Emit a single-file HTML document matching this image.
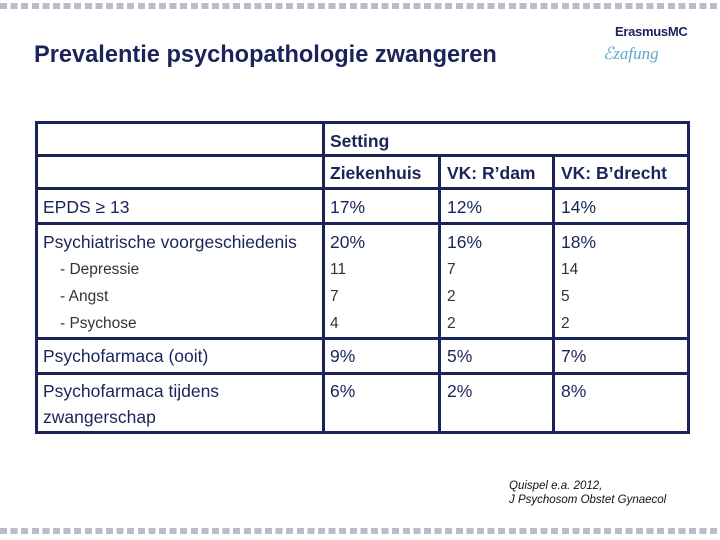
<!DOCTYPE html>
<html><head><meta charset="utf-8"><style>
body{margin:0;width:720px;height:540px;background:#fff;position:relative;overflow:hidden;font-family:"Liberation Sans",sans-serif;color:#1b2459}
.t{position:absolute;white-space:nowrap;font-size:17.5px;line-height:20px}
.b{font-weight:bold}
.s{font-size:15.5px;color:#333}
.h{position:absolute;height:3px;background:#1b2459}
.v{position:absolute;width:3px;background:#1b2459}
.dots{position:absolute;left:0;width:720px;height:6px;background:repeating-linear-gradient(90deg,#b8bccb 0 7px,transparent 7px 10.6px)}
</style></head><body>
<div class="dots" style="top:3px"></div>
<div class="dots" style="top:528px"></div>
<div class="t b" style="left:34px;top:41px;font-size:23.6px;line-height:28px;color:#1b2459">Prevalentie psychopathologie zwangeren</div>
<div class="t b" style="left:615px;top:22px;font-size:13px;color:#1b2459;letter-spacing:-0.3px">ErasmusMC</div>
<div class="t" style="left:603px;top:44px;font-size:17px;font-style:italic;font-family:'Liberation Serif',serif;color:#5aa9c8">&#x2130;zafung</div>

<div>
<div class="h" style="left:36px;top:121px;width:653px"></div>
<div class="h" style="left:36px;top:154px;width:653px"></div>
<div class="h" style="left:36px;top:187px;width:653px"></div>
<div class="h" style="left:36px;top:222px;width:653px"></div>
<div class="h" style="left:36px;top:337px;width:653px"></div>
<div class="h" style="left:36px;top:372px;width:653px"></div>
<div class="h" style="left:36px;top:431px;width:653px"></div>
<div class="v" style="left:35px;top:121px;height:313px"></div>
<div class="v" style="left:322px;top:121px;height:313px"></div>
<div class="v" style="left:438px;top:154px;height:280px"></div>
<div class="v" style="left:552px;top:154px;height:280px"></div>
<div class="v" style="left:687px;top:121px;height:313px"></div>

<div class="t b" style="left:330px;top:131px">Setting</div>
<div class="t b" style="left:330px;top:163px">Ziekenhuis</div>
<div class="t b" style="left:447px;top:163px">VK: R’dam</div>
<div class="t b" style="left:561px;top:163px">VK: B’drecht</div>

<div class="t" style="left:43px;top:197px">EPDS ≥ 13</div>
<div class="t" style="left:330px;top:197px">17%</div><div class="t" style="left:447px;top:197px">12%</div><div class="t" style="left:561px;top:197px">14%</div>

<div class="t" style="left:43px;top:232px">Psychiatrische voorgeschiedenis</div>
<div class="t" style="left:330px;top:232px">20%</div><div class="t" style="left:447px;top:232px">16%</div><div class="t" style="left:561px;top:232px">18%</div>

<div class="t s" style="left:60px;top:260px">- Depressie</div>
<div class="t s" style="left:330px;top:260px">11</div><div class="t s" style="left:447px;top:260px">7</div><div class="t s" style="left:561px;top:260px">14</div>
<div class="t s" style="left:60px;top:287px">- Angst</div>
<div class="t s" style="left:330px;top:287px">7</div><div class="t s" style="left:447px;top:287px">2</div><div class="t s" style="left:561px;top:287px">5</div>
<div class="t s" style="left:60px;top:314px">- Psychose</div>
<div class="t s" style="left:330px;top:314px">4</div><div class="t s" style="left:447px;top:314px">2</div><div class="t s" style="left:561px;top:314px">2</div>

<div class="t" style="left:43px;top:346px">Psychofarmaca (ooit)</div>
<div class="t" style="left:330px;top:346px">9%</div><div class="t" style="left:447px;top:346px">5%</div><div class="t" style="left:561px;top:346px">7%</div>

<div class="t" style="left:43px;top:378px;line-height:26px">Psychofarmaca tijdens<br>zwangerschap</div>
<div class="t" style="left:330px;top:378px;line-height:26px">6%</div><div class="t" style="left:447px;top:378px;line-height:26px">2%</div><div class="t" style="left:561px;top:378px;line-height:26px">8%</div>
</div>

<div class="t" style="left:509px;top:479px;font-size:11.5px;line-height:14px;font-style:italic;color:#111">Quispel e.a. 2012,<br>J Psychosom Obstet Gynaecol</div>
</body></html>
